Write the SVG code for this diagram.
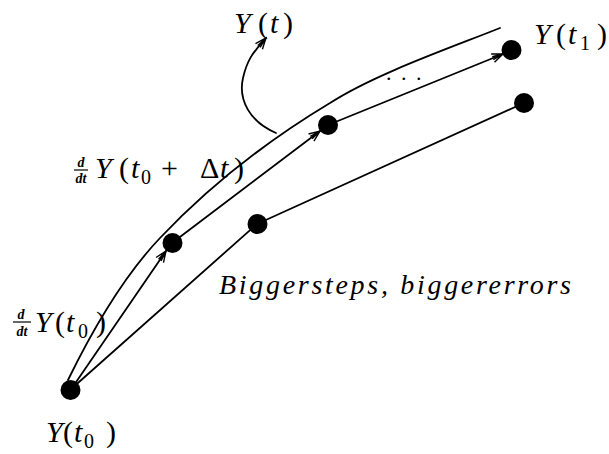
<svg xmlns="http://www.w3.org/2000/svg" width="609" height="454" viewBox="0 0 609 454">
<style>
  .ln{fill:none;stroke:#000;stroke-width:1.8;stroke-linecap:round}
  .dot{fill:#000}
  .v{font-family:"Liberation Serif","Times New Roman",serif;font-style:italic;font-size:30px;fill:#000}
  .u{font-family:"Liberation Serif","Times New Roman",serif;font-size:30px;fill:#000}
  .s{font-family:"Liberation Serif","Times New Roman",serif;font-size:20px;fill:#000}
  .f{font-family:"Liberation Serif","Times New Roman",serif;font-style:italic;font-weight:bold;font-size:14px;fill:#000;text-anchor:middle}
</style>
<defs>
  <marker id="ah" viewBox="-12 -6 14 12" refX="0" refY="0" markerWidth="14" markerHeight="12" markerUnits="userSpaceOnUse" orient="auto">
    <path d="M-11,-4.5 L0,0 L-11,4.5 M-11,-1.5 L0,0 L-11,1.5" fill="none" stroke="#000" stroke-width="1.4"/>
  </marker>
</defs>
<rect width="609" height="454" fill="#fff"/>

<g id="connectors">
  <path id="curve-Yt" class="ln" d="M68,380 C90,335 120,280 160,238 S255,148 330,103 C375,74 450,48 500,28"/>
  <path id="pointer-Yt" class="ln" d="M276,133 C250,122 238,100 243,78 S256,50 266,38" marker-end="url(#ah)"/>
  <line class="ln" x1="72" y1="388" x2="166" y2="251" marker-end="url(#ah)"/>
  <line class="ln" x1="172" y1="243" x2="320" y2="131" marker-end="url(#ah)"/>
  <line class="ln" x1="328" y1="125" x2="503" y2="54" marker-end="url(#ah)"/>
  <line class="ln" x1="70" y1="390" x2="257" y2="224"/>
  <line class="ln" x1="257" y1="224" x2="524" y2="103"/>
</g>

<g id="node-P0"><circle class="dot" cx="70.5" cy="390" r="10"/></g>
<g id="node-P1"><circle class="dot" cx="172.5" cy="243" r="10"/></g>
<g id="node-P2"><circle class="dot" cx="257.5" cy="224" r="10"/></g>
<g id="node-P3"><circle class="dot" cx="328" cy="125" r="10"/></g>
<g id="node-P4"><circle class="dot" cx="511.5" cy="50" r="10"/></g>
<g id="node-P5"><circle class="dot" cx="524" cy="103" r="10"/></g>

<g id="label-Yt">
  <text class="v" x="234" y="33">Y</text><text class="u" x="258" y="33">(</text><text class="v" x="270" y="33">t</text><text class="u" x="283" y="33">)</text>
</g>
<g id="label-Yt1">
  <text class="v" x="534" y="44">Y</text><text class="u" x="556" y="44">(</text><text class="v" x="568" y="44">t</text><text class="s" x="580" y="50">1</text><text class="u" x="597" y="44">)</text>
</g>
<g id="label-dots">
  <text class="u" x="386" y="80" style="font-size:22px;letter-spacing:9.5px">...</text>
</g>
<g id="label-dY-t0-dt">
  <text class="f" x="81" y="167">d</text>
  <line x1="74" y1="170" x2="88" y2="170" stroke="#000" stroke-width="1.2"/>
  <text class="f" x="81" y="183">dt</text>
  <text class="v" x="95" y="178">Y</text><text class="u" x="119" y="178">(</text><text class="v" x="131" y="178">t</text><text class="s" x="141" y="184">0</text><text class="u" x="161" y="178">+</text><text class="u" x="200" y="178">Δ</text><text class="v" x="220" y="178">t</text><text class="u" x="234" y="178">)</text>
</g>
<g id="label-big">
  <text class="v" x="219" y="294" textLength="352" lengthAdjust="spacing" style="font-size:28px">Biggersteps, biggererrors</text>
</g>
<g id="label-dY-t0">
  <text class="f" x="21" y="319">d</text>
  <line x1="13" y1="322" x2="31" y2="322" stroke="#000" stroke-width="1.2"/>
  <text class="f" x="22" y="336">dt</text>
  <text class="v" x="35" y="332">Y</text><text class="u" x="55" y="332">(</text><text class="v" x="66" y="332">t</text><text class="s" x="78" y="338">0</text><text class="u" x="96" y="332">)</text>
</g>
<g id="label-Yt0">
  <text class="v" x="46" y="442">Y</text><text class="u" x="63" y="442">(</text><text class="v" x="74" y="442">t</text><text class="s" x="84" y="448">0</text><text class="u" x="106" y="442">)</text>
</g>
</svg>
